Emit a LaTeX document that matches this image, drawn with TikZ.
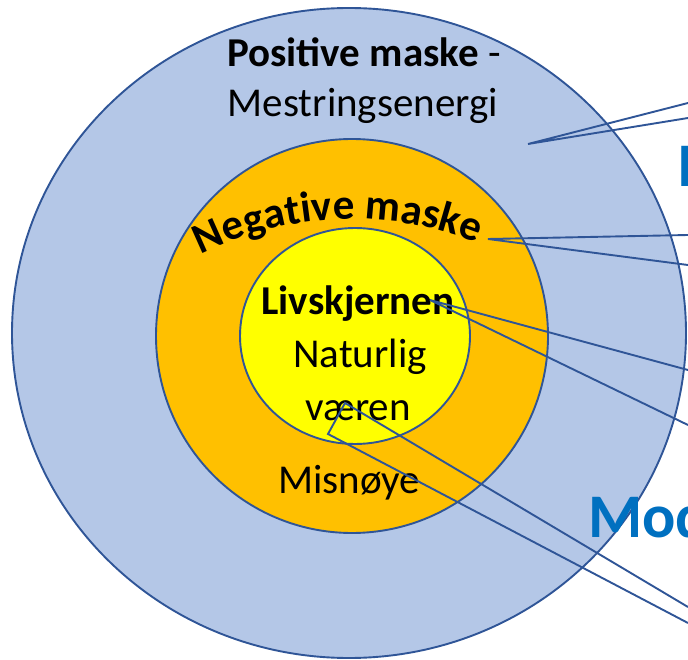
\documentclass[tikz,border=0pt]{standalone}
\usepackage{fontspec}
\setmainfont{Carlito}
\usetikzlibrary{positioning, decorations.text}

\definecolor{ytreblaa}{HTML}{B4C7E7}
\definecolor{maskeoransj}{HTML}{FFC000}
\definecolor{kjernegul}{HTML}{FFFF00}
\definecolor{kantblaa}{HTML}{2F5597}
\definecolor{tittelblaa}{HTML}{0070C0}

\begin{document}
\begin{tikzpicture}[x=1pt, y=-1pt,
    ring/.style={draw=kantblaa, line width=1.9pt},
    tekst/.style={font=\fontsize{41}{41}\selectfont, anchor=base, inner sep=0pt},
    blaatekst/.style={font=\bfseries\fontsize{62}{62}\selectfont, text=tittelblaa, anchor=base west, inner sep=0pt},
    peker/.style={draw=kantblaa, line width=1.9pt}]

    \useasboundingbox (0,0) rectangle (688,660);
    \clip (0,0) rectangle (688,660);

    % Rings
    \draw[ring, fill=ytreblaa] (349,333) ellipse [x radius=337, y radius=325];
    \draw[ring, fill=maskeoransj] (352,336) ellipse [x radius=196, y radius=197];
    \draw[ring, fill=kjernegul] (355,336) ellipse [x radius=115, y radius=108];

    % Texts in the rings
    \node (positiv) [tekst] at (364,67) {\textbf{Positive maske} -};
    \node (mestring) [tekst] at (363,117) {Mestringsenergi};
    \node (kjerne) [tekst, font=\bfseries\fontsize{41}{41}\selectfont] at (358,315) {Livskjernen};
    \node (naturlig) [tekst] at (360,367) {Naturlig};
    \node (vaeren) [tekst] at (358,420) {væren};
    \node (misnoye) [tekst] at (349,493) {Misnøye};

    % Bent text
    \path[decorate, decoration={text along path, text align=center,
        text={|\bfseries\fontsize{43}{43}\selectfont|Negative maske}}]
        (352,558) ++(217.6:339) arc[start angle=217.6, end angle=317.6, radius=339];

    % Titles on the right (cut off)
    \node (toptittel) [blaatekst] at (677,187) {I};
    \node (modtittel) [blaatekst] at (588,537) {Mod};

    % Callout pointers
    \coordinate (p1) at (528,144);
    \coordinate (e1a) at (688,103);
    \coordinate (e1b) at (688,118);
    \coordinate (p2) at (488,239);
    \coordinate (e2a) at (688,235);
    \coordinate (e2b) at (688,265);
    \coordinate (p3) at (430,300);
    \coordinate (e3a) at (688,370);
    \coordinate (e3b) at (688,425);
    \coordinate (p4a) at (345,403);
    \coordinate (p4b) at (328,434);
    \coordinate (e4a) at (688,607);
    \coordinate (e4b) at (688,623);

    \draw[peker] (e1a) -- (p1) -- (e1b);
    \draw[peker] (e2a) -- (p2) -- (e2b);
    \draw[peker] (e3a) -- (p3) -- (e3b);
    \draw[peker] (e4a) -- (p4a) -- (p4b) -- (e4b);

\end{tikzpicture}
\end{document}
